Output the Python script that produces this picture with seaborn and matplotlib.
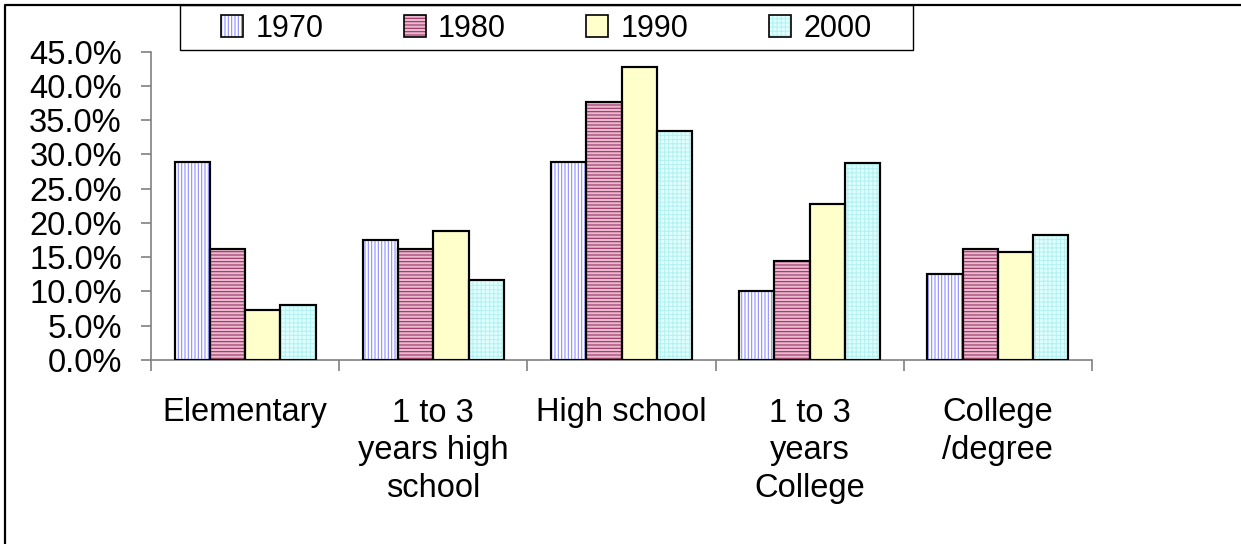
import numpy as np
import pandas as pd
import matplotlib
matplotlib.use("Agg")
import matplotlib.pyplot as plt
import matplotlib.patches as mpatches
from matplotlib.lines import Line2D
from matplotlib.legend_handler import HandlerTuple
from matplotlib.ticker import FuncFormatter
import seaborn as sns

# Educational attainment shares (%) by census year
levels = ["Elementary", "1 to 3\nyears high\nschool", "High school",
          "1 to 3\nyears\nCollege", "College\n/degree"]
years = ["1970", "1980", "1990", "2000"]
share_1970 = [28.9, 17.5, 28.9, 10.0, 12.6]
share_1980 = [16.2, 16.2, 37.6, 14.5, 16.2]
share_1990 = [7.3, 18.9, 42.8, 22.7, 15.7]
share_2000 = [8.0, 11.7, 33.4, 28.7, 18.2]
y_ticks = [0, 5, 10, 15, 20, 25, 30, 35, 40, 45]

series = {"1970": share_1970, "1980": share_1980,
          "1990": share_1990, "2000": share_2000}
df = pd.DataFrame([
    {"level": lvl, "year": yr, "share": vals[i]}
    for yr, vals in series.items()
    for i, lvl in enumerate(levels)
])

# fill colour, hatch pattern and hatch colour per year
fills = {"1970": "#FFFFFF", "1980": "#E9B9CD", "1990": "#FFFFCC", "2000": "#E2FFFF"}
hatches = {"1970": "|||||", "1980": "-----", "1990": "", "2000": "++++"}
hatch_colors = {"1970": "#8C8CFF", "1980": "#993366", "1990": "#FFFFCC", "2000": "#B4F2F2"}

sns.set_style("white")
plt.rcParams["font.family"] = ["Liberation Sans", "DejaVu Sans"]
plt.rcParams["text.color"] = "black"
plt.rcParams["xtick.labelcolor"] = "black"
plt.rcParams["ytick.labelcolor"] = "black"
plt.rcParams["hatch.linewidth"] = 0.8

W, H = 1241, 544
fig = plt.figure(figsize=(W / 100, H / 100), dpi=100)
ax = fig.add_axes([151 / W, 1 - 360 / H, (1092 - 151) / W, (360 - 51.7) / H])

sns.barplot(data=df, x="level", y="share", hue="year", order=levels,
            hue_order=years, palette=fills, saturation=1, width=0.75,
            edgecolor="black", linewidth=1.5, legend=False, ax=ax, zorder=2)

# pattern layer and crisp outline on top of each bar
for yr, container in zip(years, ax.containers):
    for bar in container:
        x0, w, h = bar.get_x(), bar.get_width(), bar.get_height()
        if hatches[yr]:
            ax.add_patch(mpatches.Rectangle((x0, 0), w, h, facecolor="none",
                                            edgecolor=hatch_colors[yr], lw=0,
                                            hatch=hatches[yr], zorder=3))
        ax.add_patch(mpatches.Rectangle((x0, 0), w, h, facecolor="none",
                                        edgecolor="black", lw=1.5, zorder=4))

ax.set_xlim(-0.5, len(levels) - 0.5)
ax.set_ylim(0, 45)
ax.set_xlabel("")
ax.set_ylabel("")

# boundary ticks between groups, labels centred on groups
ax.set_xticks(np.arange(-0.5, len(levels)), [""] * (len(levels) + 1))
ax.set_xticks(np.arange(len(levels)), levels, minor=True)
ax.tick_params(axis="x", which="major", bottom=True, length=8, width=1.2,
               color="#808080", direction="out")
ax.tick_params(axis="x", which="minor", bottom=True, length=0, pad=27,
               labelsize=23.5, labelcolor="black")
for lbl in ax.get_xticklabels(minor=True):
    lbl.set_linespacing(1.28)

ax.set_yticks(y_ticks)
ax.yaxis.set_major_formatter(FuncFormatter(lambda v, _: f"{v:.1f}%"))
ax.tick_params(axis="y", left=True, length=7, width=1.2, color="#808080",
               direction="out", pad=14, labelsize=23.5, labelcolor="black")

for side in ("top", "right"):
    ax.spines[side].set_visible(False)
for side in ("left", "bottom"):
    ax.spines[side].set_color("#808080")
    ax.spines[side].set_linewidth(1.2)

# legend with patterned keys
handles = []
for yr in years:
    parts = [mpatches.Patch(facecolor=fills[yr], edgecolor="none")]
    if hatches[yr]:
        parts.append(mpatches.Patch(facecolor="none", edgecolor=hatch_colors[yr],
                                    lw=0, hatch=hatches[yr]))
    parts.append(mpatches.Patch(facecolor="none", edgecolor="black", lw=1.2))
    handles.append(tuple(parts))

fig.legend(handles, years, loc="center left",
           bbox_to_anchor=(206 / W, 1 - 29 / H), ncol=4, frameon=False,
           borderpad=0, fontsize=22, handlelength=0.72, handleheight=0.72,
           handletextpad=0.4, columnspacing=2.63,
           handler_map={tuple: HandlerTuple(ndivide=1)})

fig.add_artist(mpatches.Rectangle((180 / W, 1 - 50 / H), (913 - 180) / W, 45 / H,
                                  transform=fig.transFigure, fill=False,
                                  edgecolor="black", lw=1.0))
fig.add_artist(Line2D([5 / W, 5 / W, 1], [0, 1 - 5 / H, 1 - 5 / H],
                      transform=fig.transFigure, color="black", lw=1.6))

fig.savefig("out.png", dpi=100, facecolor="white")
